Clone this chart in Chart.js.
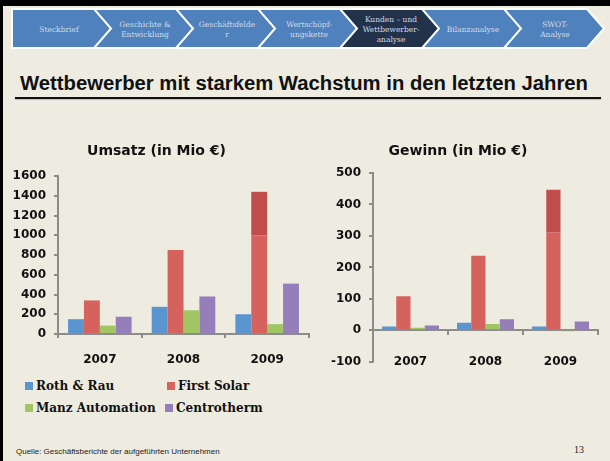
<!DOCTYPE html>
<html>
<head>
<meta charset="utf-8">
<script src="https://cdn.jsdelivr.net/npm/chart.js@4.4.1/dist/chart.umd.min.js"></script>
<style>
  body { margin: 0; width: 610px; height: 461px; background: #EEEBE1; position: relative; overflow: hidden; font-family: "Liberation Sans", Arial, sans-serif; }
  #topbar { position: absolute; left: 0; top: 0; width: 610px; height: 6px; background: #000; }
  #leftbar { position: absolute; left: 0; top: 0; width: 3px; height: 461px; background: #000; }
  #nav { position: absolute; left: 0; top: 0; }
  #heading { position: absolute; left: 20px; top: 72px; font-weight: bold; font-size: 20.3px; color: #111; white-space: nowrap; }
  #underline { position: absolute; left: 15px; top: 97px; width: 586px; height: 2px; background: #111; box-shadow: 0 1px 1px #bbb; }
  .box { position: absolute; }
  #legend { position: absolute; left: 25px; top: 379px; font-family: "DejaVu Serif", serif; font-weight: bold; font-size: 12px; color: #111; }
  .item { position: absolute; white-space: nowrap; }
  .item span { display: inline-block; width: 8px; height: 8px; margin-right: 3px; }
  #source { position: absolute; left: 16px; top: 447px; font-size: 8px; color: #222; }
  #page { position: absolute; left: 574px; top: 444px; font-family: "Liberation Serif", serif; font-size: 10px; color: #222; }
</style>
</head>
<body>
<div id="topbar"></div>
<div id="leftbar"></div>
<svg id="nav" width="610" height="60"></svg>
<div id="heading">Wettbewerber mit starkem Wachstum in den letzten Jahren</div>
<div id="underline"></div>

<div class="box" style="left:4px; top:132px;"><canvas id="umsatzChart" width="308" height="242"></canvas></div>
<div class="box" style="left:318px; top:129px;"><canvas id="gewinnChart" width="285" height="248"></canvas></div>

<div id="legend"></div>
<div id="source">Quelle: Geschäftsberichte der aufgeführten Unternehmen</div>
<div id="page">13</div>

<script>
// navigation steps
const navSteps = [
  ["Steckbrief"],
  ["Geschichte &", "Entwicklung"],
  ["Geschäftsfelde", "r"],
  ["Wertschöpf-", "ungskette"],
  ["Kunden – und", "Wettbewerber-", "analyse"],
  ["Bilanzanalyse"],
  ["SWOT-", "Analyse"]
];
const activeStep = 4;

// chart data
const years = ["2007", "2008", "2009"];
const companies = ["Roth & Rau", "First Solar", "Manz Automation", "Centrotherm"];
const colors = ["#5B95D0", "#D6625E", "#A2C563", "#957EBA"];
const darkRed = "#C24E4B";

const umsatzRoth = [150, 275, 200];
const umsatzFirst = [340, 850, 1440];
const umsatzManz = [85, 240, 100];
const umsatzCentro = [175, 380, 510];
const umsatzBreak = 1000;

const gewinnRoth = [12, 24, 12];
const gewinnFirst = [108, 237, 447];
const gewinnManz = [8, 20, -1];
const gewinnCentro = [15, 35, 28];
const gewinnBreak = 312;

const umsatzTicks = { min: 0, max: 1600, step: 200 };
const gewinnTicks = { min: -100, max: 500, step: 100 };

// header chevrons
const svg = document.getElementById("nav");
const ns = "http://www.w3.org/2000/svg";
navSteps.forEach((lines, i) => {
  const x = 12 + i * 82, t = 9, b = 48, m = 28.5;
  const pts = i === 0
    ? [[x, t], [x + 83, t], [x + 100, m], [x + 83, b], [x, b]]
    : [[x, t], [x + 83, t], [x + 100, m], [x + 83, b], [x, b], [x + 17, m]];
  const poly = document.createElementNS(ns, "polygon");
  poly.setAttribute("points", pts.map(p => p.join(",")).join(" "));
  poly.setAttribute("fill", i === activeStep ? "#22324A" : "#4F81BD");
  poly.setAttribute("stroke", "#fff");
  poly.setAttribute("stroke-width", "2");
  svg.appendChild(poly);
  const cx = i === 0 ? x + 47 : x + 51;
  lines.forEach((ln, k) => {
    const txt = document.createElementNS(ns, "text");
    txt.setAttribute("x", cx);
    txt.setAttribute("y", m + (k - (lines.length - 1) / 2) * 10 + 3);
    txt.setAttribute("text-anchor", "middle");
    txt.setAttribute("font-family", "DejaVu Serif, serif");
    txt.setAttribute("font-size", "7.5");
    txt.setAttribute("fill", "#D3DBE6");
    txt.textContent = ln;
    svg.appendChild(txt);
  });
});

// legend
const legendPos = [[0, 0], [142, 0], [0, 22], [140, 22]];
const legend = document.getElementById("legend");
companies.forEach((c, i) => {
  const d = document.createElement("div");
  d.className = "item";
  d.style.left = legendPos[i][0] + "px";
  d.style.top = legendPos[i][1] + "px";
  d.innerHTML = `<span style="background:${colors[i]}"></span>${c}`;
  legend.appendChild(d);
});

const tickFont = { family: "DejaVu Sans", weight: "bold", size: 12 };
const axisGray = "#8C8C8C";

function buildDatasets(roth, first, manz, centro, cut) {
  return [
    { label: companies[0], data: roth, backgroundColor: colors[0], stack: "a" },
    { label: companies[1], data: first.map(v => Math.min(v, cut)), backgroundColor: colors[1], stack: "b" },
    { label: companies[1] + " top", data: first.map(v => Math.max(v - cut, 0)), backgroundColor: darkRed, stack: "b" },
    { label: companies[2], data: manz, backgroundColor: colors[2], stack: "c" },
    { label: companies[3], data: centro, backgroundColor: colors[3], stack: "d" }
  ].map(ds => Object.assign(ds, { barPercentage: 1, categoryPercentage: 0.76 }));
}

function makeChart(id, title, datasets, range, yWidth, titlePad, xPos, xPad, layoutPad) {
  return new Chart(document.getElementById(id), {
    type: "bar",
    data: { labels: years, datasets: datasets },
    options: {
      responsive: false,
      animation: false,
      layout: { padding: layoutPad },
      plugins: {
        legend: { display: false },
        tooltip: { enabled: false },
        title: {
          display: true, text: title, color: "#111",
          font: { family: "DejaVu Sans", weight: "bold", size: 14, lineHeight: 1.2 },
          padding: titlePad
        }
      },
      scales: {
        x: {
          stacked: true,
          position: xPos,
          grid: { drawOnChartArea: false, drawTicks: true, tickLength: 4, color: axisGray, lineWidth: 2 },
          border: { color: axisGray, width: 2 },
          ticks: { color: "#111", font: tickFont, padding: xPad },
          afterFit: s => { if (xPos === "bottom") s.height = 40; }
        },
        y: {
          stacked: true,
          min: range.min, max: range.max,
          grid: { drawOnChartArea: false, drawTicks: true, tickLength: 4, color: axisGray, lineWidth: 2 },
          border: { color: axisGray, width: 2 },
          ticks: { stepSize: range.step, color: "#111", font: tickFont, padding: 8, callback: v => String(v) },
          afterFit: s => { s.width = yWidth; }
        }
      }
    }
  });
}

makeChart("umsatzChart", "Umsatz (in Mio €)",
  buildDatasets(umsatzRoth, umsatzFirst, umsatzManz, umsatzCentro, umsatzBreak),
  umsatzTicks, 54, { top: 11, bottom: 16.2 }, "bottom", 15,
  { top: 0, right: 3, bottom: 0, left: 0 });

makeChart("gewinnChart", "Gewinn (in Mio €)",
  buildDatasets(gewinnRoth, gewinnFirst, gewinnManz, gewinnCentro, gewinnBreak),
  gewinnTicks, 55, { top: 14, bottom: 13.2 }, { y: 0 }, 20,
  { top: 0, right: 5, bottom: 10, left: 0 });
</script>
</body>
</html>
